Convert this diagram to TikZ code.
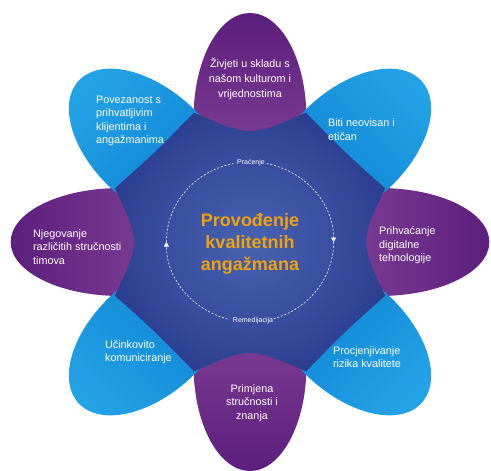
\documentclass[tikz,border=0pt]{standalone}
\usepackage{fontspec}
\setmainfont{Liberation Sans}
\usetikzlibrary{arrows.meta}

\definecolor{purpleTip}{RGB}{92,30,124}
\definecolor{purpleBase}{RGB}{142,78,160}
\definecolor{blueTip}{RGB}{36,162,230}
\definecolor{blueBase}{RGB}{10,126,210}
\definecolor{navyDark}{RGB}{28,40,124}
\definecolor{navyLight}{RGB}{72,98,178}
\definecolor{goldText}{RGB}{240,162,14}

\pgfdeclareradialshading{navyglow}{\pgfpoint{0bp}{0bp}}{color(0bp)=(navyLight); color(18bp)=(navyLight!60!navyDark); color(40bp)=(navyDark); color(50bp)=(navyDark)}

\tikzset{every picture/.style={line width=0.75pt}}
\tikzset{
  purplepetal/.style={top color=purpleTip, bottom color=purpleBase},
  bluepetal/.style={top color=blueTip, bottom color=blueBase},
  petaltext/.style={text=white, inner sep=0.75pt, font=\fontsize{10.8}{13.5}\selectfont},
  cycletext/.style={text=white, inner sep=0.75pt, font=\fontsize{7}{8}\selectfont},
  cycleline/.style={draw=white, line width=0.6pt, dash pattern=on 2pt off 1.8pt},
}

\begin{document}
\begin{tikzpicture}[x=1pt,y=1pt,yscale=-1,xscale=1]
	\useasboundingbox (0,0) rectangle (491,471);
	
	\begin{scope}[shift={(250,242)}, xscale=1.045]
	%Shape: Petal top
	\shade [purplepetal, shading angle=0, rotate=-90] (124,0) ellipse [x radius=105, y radius=54];
	%Shape: Petal right
	\shade [purplepetal, shading angle=-90, rotate=0] (124,0) ellipse [x radius=105, y radius=54];
	%Shape: Petal bottom
	\shade [purplepetal, shading angle=180, rotate=90] (124,0) ellipse [x radius=105, y radius=54];
	%Shape: Petal left
	\shade [purplepetal, shading angle=90, rotate=180] (124,0) ellipse [x radius=105, y radius=54];
	%Shape: Petal top right
	\shade [bluepetal, shading angle=-45, rotate=-45] (134,0) ellipse [x radius=96, y radius=56];
	%Shape: Petal bottom right
	\shade [bluepetal, shading angle=-135, rotate=45] (134,0) ellipse [x radius=96, y radius=56];
	%Shape: Petal bottom left
	\shade [bluepetal, shading angle=135, rotate=135] (134,0) ellipse [x radius=96, y radius=56];
	%Shape: Petal top left
	\shade [bluepetal, shading angle=45, rotate=225] (134,0) ellipse [x radius=96, y radius=56];
	
	%Shape: Centre star
	\shade [shading=navyglow] (129.3,-53.6) .. controls (105,0) .. (129.3,53.6) .. controls (90.2,90.2) .. (53.6,129.3) .. controls (0,105) .. (-53.6,129.3) .. controls (-90.2,90.2) .. (-129.3,53.6) .. controls (-105,0) .. (-129.3,-53.6) .. controls (-90.2,-90.2) .. (-53.6,-129.3) .. controls (0,-105) .. (53.6,-129.3) .. controls (90.2,-90.2) .. (129.3,-53.6) -- cycle;
	
	%Curve Lines: dashed cycle
	\draw [cycleline, -{Triangle[width=5pt,length=4.5pt]}] (-78.5:80) arc [start angle=-78.5, end angle=0, radius=80];
	\draw [cycleline] (0:80) arc [start angle=0, end angle=74.5, radius=80];
	\draw [cycleline, -{Triangle[width=5pt,length=4.5pt]}] (105.5:80) arc [start angle=105.5, end angle=180, radius=80];
	\draw [cycleline] (180:80) arc [start angle=180, end angle=258.5, radius=80];
	\end{scope}
	
	% Text Node
	\draw (250,79) node [anchor=center][petaltext, align=center, font=\fontsize{10.8}{15}\selectfont] (zivjeti) {Živjeti u skladu s\\našom kulturom i\\vrijednostima};
	% Text Node
	\draw (95,121) node [anchor=west][petaltext, align=left] (povezanost) {Povezanost s\\prihvatljivim\\klijentima i\\angažmanima};
	% Text Node
	\draw (327,129.5) node [anchor=west][petaltext, align=left] (biti) {Biti neovisan i\\etičan};
	% Text Node
	\draw (32,247) node [anchor=west][petaltext, align=left] (njegovanje) {Njegovanje\\različitih stručnosti\\timova};
	% Text Node
	\draw (378,245.5) node [anchor=west][petaltext, align=left] (prihvacanje) {Prihvaćanje\\digitalne\\tehnologije};
	% Text Node
	\draw (104,352) node [anchor=west][petaltext, align=left] (ucinkovito) {Učinkovito\\komuniciranje};
	% Text Node
	\draw (252,403) node [anchor=center][petaltext, align=center] (primjena) {Primjena\\stručnosti i\\znanja};
	% Text Node
	\draw (332,357) node [anchor=west][petaltext, align=left] (procjena) {Procjenjivanje\\rizika kvalitete};
	% Text Node
	\draw (250,244) node [anchor=center][inner sep=0.75pt, align=center, text=goldText, font=\bfseries\fontsize{18}{22}\selectfont] (provodenje) {Provođenje\\kvalitetnih\\angažmana};
	% Text Node
	\draw (251,163) node [anchor=center][cycletext] (pracenje) {Praćenje};
	% Text Node
	\draw (253,321) node [anchor=center][cycletext] (remedijacija) {Remedijacija};
	
\end{tikzpicture}
\end{document}
